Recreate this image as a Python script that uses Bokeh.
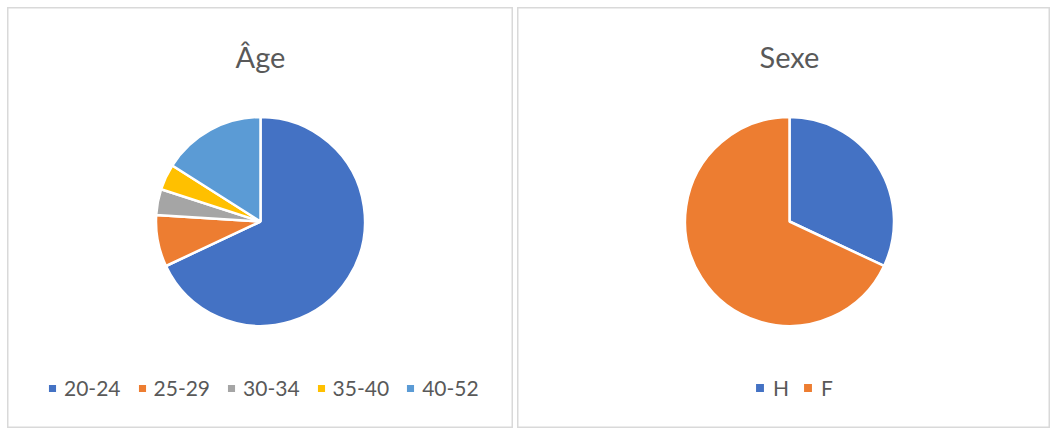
import math
from bokeh.plotting import figure
from bokeh.models import Range1d, Label, ColumnDataSource, Legend, LegendItem
from bokeh.layouts import row
from bokeh.embed import file_html
from bokeh.resources import INLINE

# ---- data ----
age_title = "Âge"
age_labels = ["20-24", "25-29", "30-34", "35-40", "40-52"]
age_counts = [17, 2, 1, 1, 4]
age_colors = ["#4472C4", "#ED7D31", "#A5A5A5", "#FFC000", "#5B9BD5"]

sexe_title = "Sexe"
sexe_labels = ["H", "F"]
sexe_counts = [8, 17]
sexe_colors = ["#4472C4", "#ED7D31"]

TEXT = "#595959"
FONT = "Lato"
H = 421


def pie(title, labels, counts, colors, W, cx, cy, r, title_y,
        leg_x, leg_y, glyph, standoff, spacing, margin):
    total = sum(counts)
    starts, ends = [], []
    cum = 0
    for c in counts:
        starts.append(math.pi / 2 - 2 * math.pi * cum / total)
        cum += c
        ends.append(math.pi / 2 - 2 * math.pi * cum / total)
    src = ColumnDataSource(dict(label=labels, count=counts, color=colors,
                                start=starts, end=ends))
    p = figure(width=W, height=H, x_range=Range1d(0, W), y_range=Range1d(0, H),
               x_axis_type=None, y_axis_type=None, toolbar_location=None,
               output_backend="svg", min_border=0,
               outline_line_color="#D9D9D9", outline_line_width=2,
               background_fill_color="white", border_fill_color="white",
               margin=margin)
    rend = p.wedge(x=cx, y=cy, radius=r, start_angle="start", end_angle="end",
                   direction="clock", fill_color="color", line_color="white",
                   line_width=2.5, source=src)
    items = [LegendItem(label=lab, renderers=[rend], index=i)
             for i, lab in enumerate(labels)]
    legend = Legend(items=items, orientation="horizontal",
                    location=(leg_x, leg_y), glyph_width=glyph,
                    glyph_height=glyph, label_standoff=standoff,
                    spacing=spacing, padding=0, margin=0,
                    border_line_color=None, background_fill_alpha=0,
                    label_text_font=FONT, label_text_font_size="21px",
                    label_text_color=TEXT)
    p.add_layout(legend)
    p.add_layout(Label(x=cx, y=title_y, text=title, text_align="center",
                       text_baseline="alphabetic", text_font=FONT,
                       text_font_size="29px", text_color=TEXT))
    return p


p1 = pie(age_title, age_labels, age_counts, age_colors, 506,
         253, 207, 104.5, 372, 39, 28, 12, 6, 15, (7, 0, 0, 7))
p2 = pie(sexe_title, sexe_labels, sexe_counts, sexe_colors, 533,
         272, 207, 104.5, 372, 236, 28, 13, 7, 8, (7, 0, 0, 4))

layout = row(p1, p2)
open("out.html", "w").write(file_html(layout, INLINE))
